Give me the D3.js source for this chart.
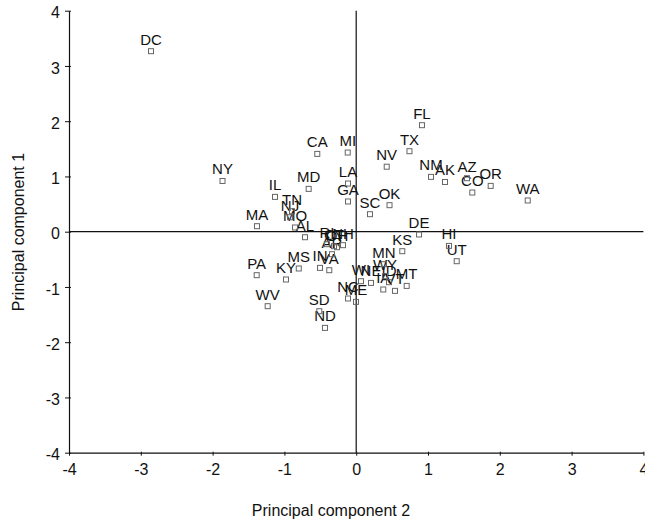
<!DOCTYPE html>
<html>
<head>
<meta charset="utf-8">
<script src="https://cdn.jsdelivr.net/npm/d3@7"></script>
<style>
  html, body { margin: 0; padding: 0; background: #fff; }
  svg { display: block; }
  text { font-family: "Liberation Sans", Arial, Helvetica, sans-serif; fill: #111; }
</style>
</head>
<body>
<div id="chart"></div>
<script>
// Data
const states = ["AL","AK","AZ","AR","CA","CO","CT","DE","FL","GA","HI","ID","IL","IN","IA","KS","KY","LA","ME","MD","MA","MI","MN","MS","MO","MT","NE","NV","NH","NJ","NM","NY","NC","ND","OH","OK","OR","PA","RI","SC","SD","TN","TX","UT","VT","VA","WA","WV","WI","WY","DC"];
const pc2 = [-0.713, 1.237, 1.543, -0.337, -0.542, 1.617, -0.309, 0.875, 0.916, -0.114, 1.292, 0.457, -1.131, -0.504, 0.377, 0.642, -0.978, -0.114, -0.003, -0.662, -1.382, -0.118, 0.387, -0.800, -0.852, 0.703, 0.206, 0.425, -0.184, -0.922, 1.042, -1.862, -0.114, -0.435, -0.267, 0.464, 1.873, -1.386, -0.407, 0.192, -0.514, -0.894, 0.742, 1.400, 0.540, -0.375, 2.389, -1.233, 0.067, 0.401, -2.858];
const pc1 = [-0.100, 0.900, 0.968, -0.407, 1.408, 0.709, -0.262, -0.050, 1.928, 0.547, -0.257, -0.914, 0.630, -0.655, -1.046, -0.353, -0.865, 0.872, -1.270, 0.775, 0.100, 1.433, -0.588, -0.666, 0.076, -0.981, -0.927, 1.176, -0.244, 0.262, 0.992, 0.918, -1.209, -1.741, -0.281, 0.480, 0.829, -0.787, -0.226, 0.317, -1.439, 0.371, 1.457, -0.534, -1.071, -0.697, 0.565, -1.348, -0.896, -0.805, 3.267];
const xTicks = [-4, -3, -2, -1, 0, 1, 2, 3, 4];
const yTicks = [-4, -3, -2, -1, 0, 1, 2, 3, 4];
const xTitle = "Principal component 2";
const yTitle = "Principal component 1";

const W = 645, H = 524;
const svg = d3.select("#chart").append("svg").attr("width", W).attr("height", H);

const x = d3.scaleLinear().domain([-4, 4]).range([69, 643.4]);
const y = d3.scaleLinear().domain([-4, 4]).range([452.7, 10.7]);

const data = states.map((s, i) => ({ s, x: pc2[i], y: pc1[i] }));
const fmt = d => String(d);

// Zero reference lines
svg.append("line")
  .attr("x1", x(-4)).attr("x2", x(4)).attr("y1", y(0)).attr("y2", y(0))
  .attr("stroke", "#111").attr("stroke-width", 1.2);
svg.append("line")
  .attr("x1", x(0)).attr("x2", x(0)).attr("y1", y(-4)).attr("y2", y(4))
  .attr("stroke", "#111").attr("stroke-width", 1.2);

// Left axis
const gy = svg.append("g").attr("transform", `translate(${x(-4)},0)`)
  .call(d3.axisLeft(y).tickValues(yTicks).tickFormat(fmt).tickSize(4).tickPadding(5).tickSizeOuter(0));
gy.select(".domain").attr("stroke", "#111").attr("stroke-width", 1.2);
gy.selectAll(".tick line").attr("x1", 2).attr("stroke", "#111");
gy.selectAll(".tick text").attr("font-size", 16).attr("dy", "0.45em")
  .style("font-family", '"Liberation Sans", Arial, sans-serif').attr("fill", "#111");

// Bottom axis
const gx = svg.append("g").attr("transform", `translate(0,${y(-4)})`)
  .call(d3.axisBottom(x).tickValues(xTicks).tickFormat(fmt).tickSize(3).tickPadding(8).tickSizeOuter(0));
gx.select(".domain").attr("stroke", "#111").attr("stroke-width", 1.2);
gx.selectAll(".tick line").attr("y1", -1).attr("stroke", "#111");
gx.selectAll(".tick text").attr("font-size", 16)
  .style("font-family", '"Liberation Sans", Arial, sans-serif').attr("fill", "#111");

// Point labels
svg.append("g").selectAll("text").data(data).join("text")
  .attr("x", d => x(d.x))
  .attr("y", d => y(d.y) - 6.5)
  .attr("text-anchor", "middle")
  .attr("font-size", 15)
  .text(d => d.s);

// Markers (hollow squares)
svg.append("g").selectAll("rect").data(data).join("rect")
  .attr("x", d => x(d.x) - 2.5)
  .attr("y", d => y(d.y) - 2.5)
  .attr("width", 5).attr("height", 5)
  .attr("fill", "none").attr("stroke", "#666").attr("stroke-width", 1);

// Axis titles
svg.append("text")
  .attr("x", 331).attr("y", 516)
  .attr("text-anchor", "middle").attr("font-size", 16)
  .text(xTitle);
svg.append("text")
  .attr("transform", `translate(24,${232}) rotate(-90)`)
  .attr("text-anchor", "middle").attr("font-size", 16)
  .text(yTitle);
</script>
</body>
</html>
